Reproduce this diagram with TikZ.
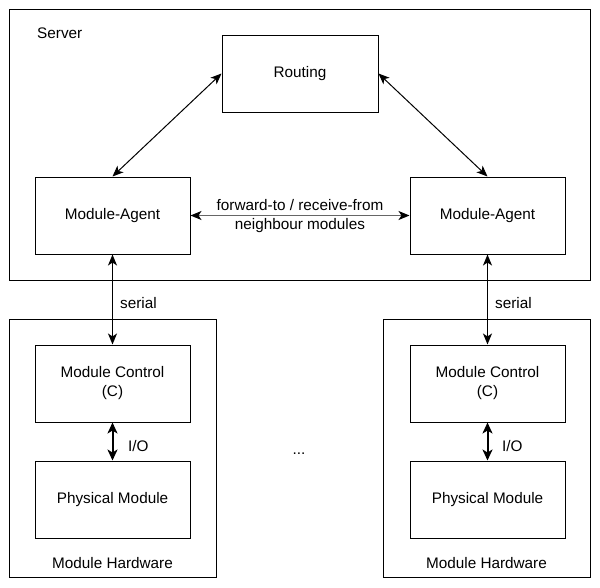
\documentclass[tikz,border=0pt]{standalone}
\usepackage{fontspec}
\setmainfont{Liberation Sans}
\usetikzlibrary{arrows.meta}
\tikzset{
  box/.style={draw=black, line width=1pt, minimum width=155pt, minimum height=77pt, inner sep=0pt, align=center},
  frame/.style={draw=black, line width=1pt, inner sep=0pt},
  lbl/.style={inner sep=0pt, align=center},
  link/.style={line width=1pt, {Stealth[length=11pt, width=9pt, inset=3pt]}-{Stealth[length=11pt, width=9pt, inset=3pt]}},
  thick link/.style={line width=2pt, {Stealth[length=11pt, width=10pt, inset=3pt]}-{Stealth[length=11pt, width=10pt, inset=3pt]}},
}
\begin{document}
\begin{tikzpicture}[x=1pt, y=-1pt, font=\fontsize{15.3}{19}\selectfont]
\useasboundingbox[fill=white] (0,0) rectangle (600,587);
% frames
\node[frame, minimum width=581pt, minimum height=271pt] (server) at (299.5,144.5) {};
\node[lbl, anchor=west] (serverlbl) at (37,33) {Server};
\node[frame, minimum width=207pt, minimum height=258pt] (hwL) at (112.5,448) {};
\node[frame, minimum width=207pt, minimum height=258pt] (hwR) at (486.5,448) {};
\node[lbl] (hwLlbl) at (112.5,563) {Module Hardware};
\node[lbl] (hwRlbl) at (486.5,563) {Module Hardware};
% boxes
\node[box, minimum width=156pt] (routing) at (300,73.5) {Routing};
\node[box] (agentL) at (112.5,215.5) {Module-Agent};
\node[box] (agentR) at (487.5,215.5) {Module-Agent};
\node[box] (ctrlL) at (112.5,383.5) {Module Control\\(C)};
\node[box] (physL) at (112.5,499.5) {Physical Module};
\node[box] (ctrlR) at (487.5,383.5) {Module Control\\(C)};
\node[box] (physR) at (487.5,499.5) {Physical Module};
% connectors
\draw[link] (routing.west) -- (agentL.north);
\draw[link] (routing.east) -- (agentR.north);
\draw[line width=1pt, draw=black!60, {Stealth[length=11pt, width=9pt, inset=3pt, black]}-{Stealth[length=11pt, width=9pt, inset=3pt, black]}] (agentL.east) -- (agentR.west);
\node[lbl] (fwd) at (300,216) {forward-to / receive-from\\neighbour modules};
\draw[link, line width=1.3pt] (agentL.south) -- (ctrlL.north);
\draw[link, line width=1.3pt] (agentR.south) -- (ctrlR.north);
\node[lbl, anchor=west] (serialL) at (120,303) {serial};
\node[lbl, anchor=west] (serialR) at (495,303) {serial};
\draw[thick link] (ctrlL.south) -- (physL.north);
\draw[thick link] (ctrlR.south) -- (physR.north);
\node[lbl, anchor=west] (ioL) at (128,446) {I/O};
\node[lbl, anchor=west] (ioR) at (502,446) {I/O};
\node[lbl] (dots) at (299,454) {...};
\end{tikzpicture}
\end{document}
